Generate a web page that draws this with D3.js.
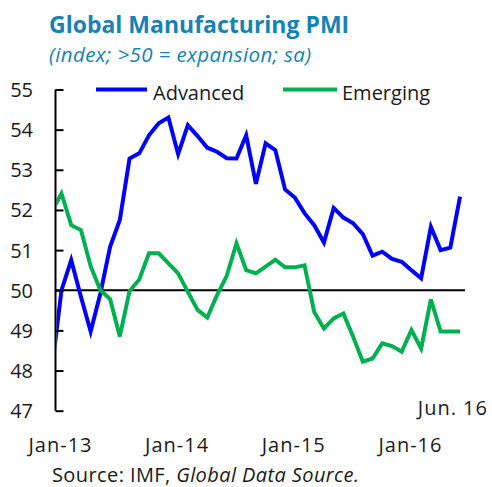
<!DOCTYPE html>
<html>
<head>
<meta charset="utf-8">
<script src="https://cdn.jsdelivr.net/npm/d3@7"></script>
<style>
  html, body { margin: 0; padding: 0; background: #fff; }
  svg { display: block; }
  text { font-family: "Open Sans", "Noto Sans", sans-serif; }
</style>
</head>
<body>
<svg id="chart" width="492" height="487"></svg>
<script>
// ---- Data (monthly, Dec-12 .. Jun-16) ----
const months = [
  "Dec-12",
  "Jan-13","Feb-13","Mar-13","Apr-13","May-13","Jun-13","Jul-13","Aug-13","Sep-13","Oct-13","Nov-13","Dec-13",
  "Jan-14","Feb-14","Mar-14","Apr-14","May-14","Jun-14","Jul-14","Aug-14","Sep-14","Oct-14","Nov-14","Dec-14",
  "Jan-15","Feb-15","Mar-15","Apr-15","May-15","Jun-15","Jul-15","Aug-15","Sep-15","Oct-15","Nov-15","Dec-15",
  "Jan-16","Feb-16","Mar-16","Apr-16","May-16","Jun-16"
];
const advanced = [
  48.0,
  50.0, 50.75, 49.84, 48.97, 49.92, 51.08, 51.75, 53.28, 53.41, 53.86, 54.16, 54.30,
  53.39, 54.11, 53.84, 53.55, 53.45, 53.29, 53.28, 53.86, 52.65, 53.66, 53.49, 52.51,
  52.31, 51.92, 51.62, 51.19, 52.05, 51.81, 51.67, 51.40, 50.86, 50.96, 50.78, 50.71,
  50.50, 50.30, 51.58, 51.00, 51.06, 52.33
];
const emerging = [
  51.97,
  52.41, 51.62, 51.50, 50.60, 50.00, 49.78, 48.85, 49.98, 50.27, 50.92, 50.92, 50.67,
  50.42, 49.96, 49.51, 49.32, 49.88, 50.36, 51.17, 50.50, 50.42, 50.59, 50.76, 50.57,
  50.57, 50.62, 49.46, 49.05, 49.30, 49.42, 48.84, 48.22, 48.30, 48.68, 48.61, 48.47,
  49.01, 48.55, 49.77, 48.97, 48.97, 48.97
];
const yTicks = [47, 48, 49, 50, 51, 52, 53, 54, 55];
const xTickLabels = ["Jan-13", "Jan-14", "Jan-15", "Jan-16"];
const seriesNames = ["Advanced", "Emerging"];
const seriesColors = ["#0000ff", "#00b050"];

const svg = d3.select("#chart");

// Geometry
const pLeft = 55.5, pRight = 465, pTop = 89.5, pBottom = 410.7;

// x: month index (0 = Dec-12); axis starts slightly after Dec-12
const x = d3.scaleLinear().domain([0.383, 42.51]).range([pLeft, pRight]);
const y = d3.scaleLinear().domain([47, 55]).range([pBottom, pTop]);

// Title
svg.append("text")
  .attr("x", 49).attr("y", 33)
  .attr("font-size", 23).attr("font-weight", "bold")
  .attr("fill", "#1782b4")
  .text("Global Manufacturing PMI");
svg.append("text")
  .attr("x", 49).attr("y", 62)
  .attr("font-size", 20.5).attr("font-style", "italic")
  .attr("letter-spacing", 0.4)
  .attr("fill", "#1782b4")
  .text("(index; >50 = expansion; sa)");

// Clip
svg.append("clipPath").attr("id", "plotclip")
  .append("rect").attr("x", pLeft + 1).attr("y", 0).attr("width", pRight - pLeft + 10).attr("height", 487);

// 50 line
svg.append("line")
  .attr("x1", pLeft).attr("x2", pRight)
  .attr("y1", y(50)).attr("y2", y(50))
  .attr("stroke", "#000").attr("stroke-width", 2);

// Lines
const lineGen = d3.line().x((d, i) => x(i)).y(d => y(d));
[advanced, emerging].forEach((s, k) => {
  svg.append("path")
    .datum(s)
    .attr("clip-path", "url(#plotclip)")
    .attr("fill", "none")
    .attr("stroke", seriesColors[k])
    .attr("stroke-width", 4)
    .attr("stroke-linejoin", "miter")
    .attr("d", lineGen);
});

// Y axis
const yAxis = d3.axisRight(y).tickValues(yTicks).tickSize(8).tickFormat("");
const gy = svg.append("g").attr("transform", `translate(${pLeft},0)`).call(yAxis);
gy.select(".domain").attr("stroke", "#000").attr("stroke-width", 2).attr("d", `M0,${pTop}V${pBottom}`);
gy.selectAll(".tick line").attr("stroke", "#000").attr("stroke-width", 2);

svg.append("g").selectAll("text").data(yTicks).join("text")
  .attr("x", 33).attr("y", d => y(d))
  .attr("text-anchor", "end").attr("dominant-baseline", "central")
  .attr("font-size", 20).attr("fill", "#1a1a1a")
  .text(d => d);

// X labels
svg.append("g").selectAll("text").data(xTickLabels).join("text")
  .attr("x", d => x(months.indexOf(d)) - 1).attr("y", 452)
  .attr("text-anchor", "middle")
  .attr("font-size", 20).attr("letter-spacing", 1).attr("fill", "#1a1a1a")
  .text(d => d);

// Jun. 16 annotation
svg.append("text")
  .attr("x", 488).attr("y", 415)
  .attr("text-anchor", "end")
  .attr("font-size", 20).attr("letter-spacing", 1).attr("fill", "#1a1a1a")
  .text("Jun. 16");

// Legend
const legendItems = [
  { x1: 96, x2: 147, tx: 153 },
  { x1: 283, x2: 337, tx: 342 }
];
legendItems.forEach((it, k) => {
  svg.append("line")
    .attr("x1", it.x1).attr("x2", it.x2).attr("y1", 89.5).attr("y2", 89.5)
    .attr("stroke", seriesColors[k]).attr("stroke-width", 4);
  svg.append("text")
    .attr("x", it.tx).attr("y", 100)
    .attr("font-size", 20).attr("fill", "#1a1a1a")
    .text(seriesNames[k]);
});

// Source
const src = svg.append("text").attr("x", 52).attr("y", 482).attr("font-size", 20)
  .attr("letter-spacing", 0.4).attr("fill", "#1a1a1a");
src.append("tspan").text("Source: IMF, ");
src.append("tspan").attr("font-style", "italic").text("Global Data Source.");
</script>
</body>
</html>
